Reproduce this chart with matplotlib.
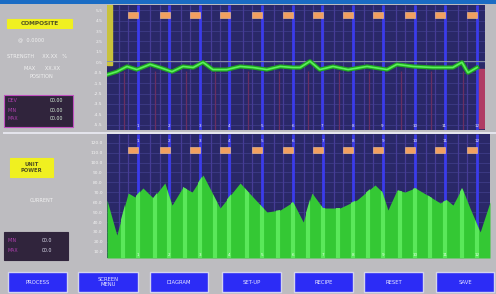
import numpy as np
import matplotlib
matplotlib.use("Agg")
import matplotlib.pyplot as plt
from matplotlib.patches import Rectangle
from matplotlib.path import Path

W, H = 496, 294

# channel positions of the 12 actuator markers (0..100 across the profile)
marker_x = [6.9, 15.3, 23.3, 31.2, 39.7, 47.9, 55.8, 63.8, 71.7, 80.2, 88.1, 96.6]
marker_lbl = ["1", "2", "3", "4", "5", "6", "7", "8", "9", "10", "11", "12"]

# composite trace (deviation around zero)
trace_x = [0, 2.6, 5.3, 7.9, 11.4, 14.0, 17.2, 20.1, 22.8, 25.4, 28.0, 31.7, 35.2, 38.6,
           42.3, 45.8, 49.2, 51.1, 53.7, 56.3, 59.8, 63.8, 68.8, 74.1, 76.7, 81.0, 86.2,
           91.5, 93.9, 95.5, 97.9]
trace_y = [-7, -4, 1, -2, 3, 0, -4, 1, 0, 5, -2, -2, 1, 0, -2, 1, 0, 0, 6, -2, 1, -2, 1,
           -2, 3, 1, 0, 0, 5, -5, 0]

# unit power profile (%)
power_x = [0, 2.6, 5.6, 7.4, 9.5, 12.2, 15.3, 17.2, 20.1, 22.5, 25.4, 29.9, 35.2, 38.6,
           42.3, 45.8, 49.2, 51.9, 54.2, 57.1, 61.6, 66.1, 70.9, 72.8, 74.3, 76.7, 78.8,
           81.5, 84.7, 88.1, 89.9, 91.5, 93.9, 96.0, 98.7, 101.3]
power_y = [46.8, 18.5, 52.4, 49.2, 56.5, 48.4, 60.5, 42.7, 57.3, 53.2, 66.9, 40.3, 60.5,
           49.2, 37.1, 38.7, 45.2, 29.0, 52.4, 40.3, 40.3, 46.8, 58.9, 53.2, 38.7, 54.8,
           53.2, 56.5, 50.8, 44.4, 46.8, 42.7, 56.5, 40.3, 21.0, 45.2]

top_ticks = [-55, -45, -35, -25, -15, -5, 5, 15, 25, 35, 45, 55]
top_labels = ["-5.5", "-4.5", "-3.5", "-2.5", "-1.5", "-0.5", "0.5", "1.5", "2.5", "3.5", "4.5", "5.5"]
bot_ticks = [5, 13, 21, 29, 37, 45, 53, 61, 69, 77, 85, 93]
bot_labels = ["10.0", "20.0", "30.0", "40.0", "50.0", "60.0", "70.0", "80.0", "90.0", "100.0", "110.0", "120.0"]

buttons = ["PROCESS", "SCREEN\nMENU", "DIAGRAM", "SET-UP", "RECIPE", "RESET", "SAVE"]
button_px = [(8, 67), (78, 138), (150, 208), (222, 281), (294, 353), (364, 423), (436, 494)]

BG = "#bdbcc0"
NAVY = "#2a2868"


def fx(px):
    return px / W


def fy(py):
    return 1 - py / H


fig = plt.figure(figsize=(W / 100, H / 100), dpi=100, facecolor=BG)

# blue title strip
fig.patches.append(Rectangle((0, fy(4)), 1, 4 / H, transform=fig.transFigure,
                             facecolor="#1a6cc4", edgecolor="none"))
# separator line between the two panels
fig.patches.append(Rectangle((fx(3), fy(134)), 1, 2 / H, transform=fig.transFigure,
                             facecolor="#e4e4ec", edgecolor="none"))

box_marker = Path([(-1, -0.6), (1, -0.6), (1, 0.6), (-1, 0.6), (-1, -0.6)])


def setup(ax, xmax, ylim, ticks, labels):
    ax.set_facecolor(NAVY)
    ax.set_xlim(0, xmax)
    ax.set_ylim(*ylim)
    ax.set_yticks(ticks)
    ax.set_yticklabels(labels)
    ax.set_xticks([])
    ax.tick_params(axis="y", length=0, pad=3, labelsize=3.2, labelcolor="#f4f4f4")
    for s in ax.spines.values():
        s.set_visible(False)
    for t in ticks:
        ax.axhline(t, color="#3e3c86", lw=0.6, zorder=1)
    minor = []
    for m in marker_x:
        minor += [m - 3.8, m - 1.3, m + 1.3]
    ax.vlines(minor, *ylim, color="#463c96", lw=0.9, zorder=1)
    ax.vlines([m + 1.2 for m in marker_x], *ylim, color="#3b3bea", lw=2.0, zorder=1)


# ---- top panel: composite ----
ax1 = fig.add_axes([fx(107), fy(130), 378 / W, 125 / H])
setup(ax1, 100, (-60, 60), top_ticks, top_labels)
ax1.vlines([m - 2.5 for m in marker_x], -60, -3, color="#6a2f62", lw=0.9, zorder=2)
ax1.axvspan(0, 1.3, ymin=0.52, ymax=1, color="#c9c23c", zorder=3)
ax1.axvspan(98.4, 99.8, ymin=0.02, ymax=0.49, color="#b03c64", zorder=3)
ax1.axhline(6, color="#8a90a8", lw=0.7, zorder=3)
ax1.plot(trace_x, trace_y, color="#1fa81f", lw=3.0, zorder=4)
ax1.plot(trace_x, trace_y, color="#5cf05c", lw=1.2, zorder=5)
ax1.scatter(marker_x, [50] * len(marker_x), marker=box_marker, s=45,
            color="#f2a060", edgecolor="#f8c890", lw=0.4, zorder=6)
for m, lb in zip(marker_x, marker_lbl):
    ax1.text(m + 1.2, -58, lb, color="#f0f0f0", fontsize=3, ha="center", va="bottom", zorder=6)
    ax1.text(m + 1.2, 61, lb, color="#f0f0f0", fontsize=3, ha="center", va="bottom",
             clip_on=False, zorder=6)

# ---- bottom panel: unit power ----
ax2 = fig.add_axes([fx(107), fy(258), 383 / W, 124 / H])
setup(ax2, 101.3, (0, 100), bot_ticks, bot_labels)
fill = ax2.fill_between(power_x, 0, power_y, color="#34c834", lw=0, zorder=3)
stripes = ax2.vlines([m + s for m in marker_x for s in (-2.6, 1.2)], 0, 100,
                     color="#5ae85a", lw=3.0, zorder=4)
stripes.set_clip_path(fill.get_paths()[0], transform=ax2.transData)
ax2.scatter(marker_x, [87] * len(marker_x), marker=box_marker, s=45,
            color="#f2a060", edgecolor="#f8c890", lw=0.4, zorder=6)
for m, lb in zip(marker_x, marker_lbl):
    ax2.text(m + 1.2, 94, lb, color="#f0f0f0", fontsize=3, ha="center", va="center", zorder=6)
    ax2.text(m + 1.2, 1, lb, color="#e8ffe8", fontsize=3, ha="center", va="bottom", zorder=6)

# ---- left info panel ----
def label_box(x0, y0, x1, y1, txt, face, edge, color, size=4.2):
    fig.patches.append(Rectangle((fx(x0), fy(y1)), (x1 - x0) / W, (y1 - y0) / H,
                                 transform=fig.transFigure, facecolor=face,
                                 edgecolor=edge, lw=0.8))
    if txt:
        fig.text(fx((x0 + x1) / 2), fy((y0 + y1) / 2), txt, color=color, fontsize=size,
                 ha="center", va="center", fontweight="bold", linespacing=1.0)


label_box(7, 19, 72, 28, "COMPOSITE", "#f0f020", "#f0f020", "#505020")
fig.text(fx(18), fy(40), "@  0.0000", color="#f2f2f2", fontsize=3.6, va="center")
fig.text(fx(7), fy(57), "STRENGTH     XX.XX   %", color="#f2f2f2", fontsize=3.6, va="center")
fig.text(fx(24), fy(68), "MAX      XX.XX", color="#f2f2f2", fontsize=3.6, va="center")
fig.text(fx(30), fy(76), "POSITION", color="#f2f2f2", fontsize=3.6, va="center")

label_box(4, 95, 73, 127, "", "#30243c", "#c050c0", "#ffffff")
for i, (a, b) in enumerate([("DEV", "00.00"), ("MIN", "00.00"), ("MAX", "00.00")]):
    fig.text(fx(8), fy(101 + i * 9), a, color="#b040b0", fontsize=3.4, va="center")
    fig.text(fx(50), fy(101 + i * 9), b, color="#d8f0d8", fontsize=3.4, va="center")

label_box(10, 158, 53, 177, "UNIT\nPOWER", "#f0f020", "#f0f020", "#505020", size=3.8)
fig.text(fx(30), fy(200), "CURRENT", color="#f2f2f2", fontsize=3.6, va="center")

label_box(4, 232, 68, 260, "", "#30243c", "#30243c", "#ffffff")
for i, (a, b) in enumerate([("MIN", "00.0"), ("MAX", "00.0")]):
    fig.text(fx(8), fy(240 + i * 10), a, color="#b040b0", fontsize=3.4, va="center")
    fig.text(fx(42), fy(240 + i * 10), b, color="#d8d8e8", fontsize=3.4, va="center")

# ---- buttons ----
for name, (x0, x1) in zip(buttons, button_px):
    fig.patches.append(Rectangle((fx(x0), fy(292)), (x1 - x0) / W, 20 / H,
                                 transform=fig.transFigure, facecolor="#2c2cf6",
                                 edgecolor="#d4d4ec", lw=1.0))
    fig.text(fx((x0 + x1) / 2), fy(282), name, color="#e8e8ff", fontsize=3.8,
             ha="center", va="center", linespacing=1.0)

fig.savefig("out.png", dpi=100, facecolor=BG)
